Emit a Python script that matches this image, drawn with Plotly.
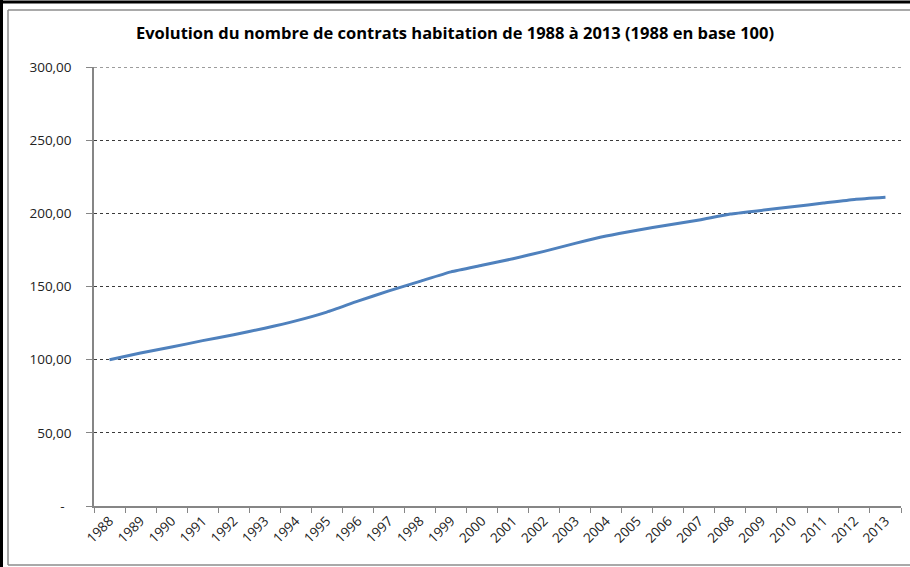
import plotly.graph_objects as go

years = [str(y) for y in range(1988, 2014)]
values = [100, 104.5, 108.6, 113, 117, 121.5, 126.5, 132.5, 140, 147, 153.5, 160, 164.5,
          169, 174, 179.5, 184.5, 188.5, 192, 195.5, 199.5, 202, 204.5, 207, 209.5, 211]
y_tickvals = [0, 50, 100, 150, 200, 250, 300]
y_ticktext = ["-\u00a0\u00a0", "50,00", "100,00", "150,00", "200,00", "250,00", "300,00"]
title_text = "Evolution du nombre de contrats habitation de 1988 à 2013 (1988 en base 100)"

W, H = 910, 567
L, R, T, B = 94, 9, 67, 61
PW, PH = W - L - R, H - T - B

def px(x):
    return (x - L) / PW

def py(y):
    return (H - B - y) / PH

fig = go.Figure()
fig.add_trace(go.Scatter(
    x=years, y=values, mode="lines",
    line=dict(color="#4F81BD", width=3, shape="spline", smoothing=0.5),
    showlegend=False,
))

shapes = [
    # outer black frame (top, left)
    dict(type="line", xref="paper", yref="paper", x0=px(0), x1=px(910), y0=py(2), y1=py(2),
         line=dict(color="black", width=3)),
    dict(type="line", xref="paper", yref="paper", x0=px(1.5), x1=px(1.5), y0=py(0), y1=py(567),
         line=dict(color="black", width=3)),
    # inner grey frame
    dict(type="line", xref="paper", yref="paper", x0=px(8), x1=px(910), y0=py(10), y1=py(10),
         line=dict(color="#8c8c8c", width=1.5)),
    dict(type="line", xref="paper", yref="paper", x0=px(8), x1=px(8), y0=py(10), y1=py(565),
         line=dict(color="#8c8c8c", width=1.5)),
    dict(type="line", xref="paper", yref="paper", x0=px(8), x1=px(910), y0=py(565), y1=py(565),
         line=dict(color="#8c8c8c", width=1.5)),
    # top gridline at the range edge
    dict(type="line", xref="paper", yref="y", x0=0, x1=1, y0=y_tickvals[-1], y1=y_tickvals[-1],
         line=dict(color="#3a3a3a", width=1, dash="dot"), layer="below"),
]

fig.update_layout(
    width=W, height=H,
    margin=dict(l=L, r=R, t=T, b=B, pad=0),
    paper_bgcolor="white", plot_bgcolor="white",
    font=dict(family="Open Sans, DejaVu Sans, sans-serif", size=13, color="#333333"),
    title=dict(text="<b>" + title_text + "</b>", x=0.5, xref="container", xanchor="center",
               y=1 - 33 / H, yanchor="middle",
               font=dict(family="Open Sans, sans-serif", size=16.5, color="black")),
    shapes=shapes,
    xaxis=dict(
        type="category", tickangle=-45, tickson="boundaries",
        ticks="outside", ticklen=5, tickcolor="#868686",
        showline=True, linecolor="#868686", linewidth=1.5,
        showgrid=False, zeroline=False,
        tickfont=dict(family="Open Sans, sans-serif", size=13.5, color="#222222"),
        range=[-0.5, len(years) - 0.5],
    ),
    yaxis=dict(
        range=[0, 300], tickvals=y_tickvals, ticktext=y_ticktext,
        ticks="outside", ticklen=6, tickcolor="#868686",
        showline=True, linecolor="#868686", linewidth=1.5,
        showgrid=True, gridcolor="#3a3a3a", gridwidth=1, griddash="dot",
        zeroline=False,
        tickfont=dict(family="Open Sans, sans-serif", size=13.5, color="#222222"),
        ticklabelstandoff=12,
    ),
)

fig.write_html("out.html", config={"displayModeBar": False},
               post_script="document.body.style.margin='0px';")
